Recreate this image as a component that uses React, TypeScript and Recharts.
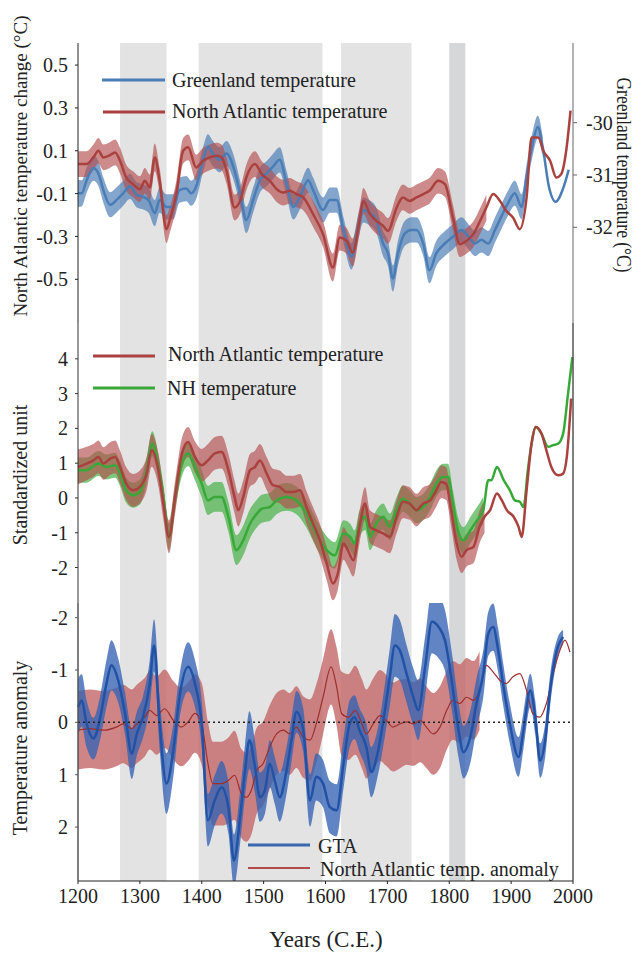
import React from 'react';
import { ComposedChart, Line, Area, XAxis, YAxis, ReferenceArea, ReferenceLine } from 'recharts';

const W = 635;
const H = 954;
const FONT = '"Liberation Serif", "Times New Roman", serif';
const TXT = '#222';

// ---------- shaded periods ----------
const coolStart = [1268, 1395, 1625];
const coolEnd = [1343, 1595, 1739];
const darkStart = 1800;
const darkEnd = 1826;

// ---------- ticks ----------
const xTicks = [1200, 1300, 1400, 1500, 1600, 1700, 1800, 1900, 2000];
const p1Ticks = [-0.5, -0.3, -0.1, 0.1, 0.3, 0.5];
const p1RightTicks = [-32, -31, -30];
const p2Ticks = [-2, -1, 0, 1, 2, 3, 4];
const p3Ticks = [-2, -1, 0, 1, 2];

// ---------- panel 1: North Atlantic temperature change (°C) ----------
const na1Years = [1200,1214,1225,1233,1241,1250,1260,1268,1278,1289,1300,1308,1316,1324,1332,1343,1348,1359,1370,1378,1391,1402,1413,1424,1432,1440,1453,1462,1472,1486,1497,1510,1521,1532,1542,1553,1564,1580,1596,1612,1623,1634,1644,1655,1661,1672,1682,1693,1701,1715,1725,1736,1747,1758,1768,1782,1793,1806,1817,1828,1839,1850,1860,1871,1882,1892,1903,1914,1925,1933,1944,1952,1963,1973,1981,1989,1996];
const na1Vals = [0.038,0.038,0.069,0.10,0.069,0.077,0.092,0.053,-0.025,-0.056,-0.079,-0.04,-0.071,0.069,-0.04,-0.266,-0.227,-0.10,0.10,0.116,0.022,0.053,0.069,0.077,0.069,0.007,-0.165,-0.134,-0.025,0.038,-0.009,-0.04,-0.079,-0.095,-0.087,-0.102,-0.118,-0.196,-0.289,-0.445,-0.305,-0.32,-0.375,-0.227,-0.134,-0.196,-0.227,-0.25,-0.274,-0.165,-0.118,-0.134,-0.118,-0.102,-0.087,-0.04,-0.056,-0.212,-0.336,-0.32,-0.289,-0.227,-0.165,-0.102,-0.134,-0.18,-0.212,-0.266,-0.118,0.162,0.162,0.10,0.053,-0.025,-0.009,0.10,0.287];
const na1Err = [0.06,0.06,0.06,0.06,0.06,0.06,0.06,0.06,0.06,0.06,0.06,0.06,0.06,0.065,0.06,0.065,0.06,0.06,0.06,0.06,0.06,0.06,0.06,0.06,0.06,0.06,0.06,0.06,0.06,0.06,0.06,0.06,0.06,0.06,0.06,0.06,0.06,0.06,0.06,0.065,0.06,0.06,0.065,0.06,0.06,0.06,0.06,0.06,0.06,0.06,0.06,0.06,0.06,0.06,0.06,0.06,0.06,0.06,0.06,0.06,0.06,0.06,0.06];

// Greenland temperature (°C), right axis
const grYears = [1200,1206,1214,1225,1233,1241,1252,1262,1273,1284,1295,1303,1314,1324,1332,1343,1354,1364,1375,1383,1391,1402,1410,1418,1429,1440,1451,1462,1472,1483,1494,1505,1515,1526,1537,1548,1559,1572,1580,1596,1607,1618,1629,1642,1653,1661,1672,1682,1693,1701,1709,1717,1728,1739,1747,1758,1768,1779,1793,1806,1820,1831,1842,1852,1863,1874,1884,1895,1906,1917,1925,1935,1943,1951,1961,1972,1983,1993];
const grVals = [-31.35,-31.35,-31.10,-30.87,-30.97,-31.29,-31.57,-31.48,-31.35,-31.22,-31.38,-31.41,-31.48,-31.73,-31.48,-31.61,-31.61,-31.29,-31.26,-31.35,-31.22,-30.71,-30.46,-30.59,-30.71,-30.59,-30.84,-31.35,-31.86,-31.48,-31.10,-30.97,-30.84,-30.71,-31.16,-31.61,-31.41,-31.10,-31.29,-31.67,-31.48,-31.48,-32.05,-32.56,-31.99,-31.67,-31.73,-31.86,-32.31,-32.50,-32.98,-32.50,-32.12,-32.05,-32.05,-32.31,-32.82,-32.50,-32.31,-32.18,-32.05,-32.18,-32.31,-32.24,-32.31,-32.05,-31.80,-31.54,-31.35,-31.61,-31.03,-30.39,-30.08,-30.46,-31.22,-31.51,-31.29,-30.90];
const grErr = [0.26,0.25,0.24,0.24,0.24,0.24,0.24,0.24,0.24,0.24,0.24,0.24,0.24,0.25,0.24,0.24,0.24,0.24,0.24,0.24,0.24,0.24,0.24,0.24,0.24,0.24,0.24,0.24,0.25,0.24,0.24,0.24,0.24,0.24,0.24,0.24,0.24,0.24,0.24,0.24,0.24,0.24,0.24,0.25,0.24,0.24,0.24,0.24,0.24,0.24,0.25,0.24,0.24,0.24,0.24,0.24,0.25,0.24,0.24,0.24,0.24,0.24,0.24,0.24,0.24,0.24,0.24,0.24,0.24,0.24,0.23,0.23,0.22,0.2];

// ---------- panel 2: standardized units ----------
const na2Years = [1200,1214,1225,1233,1241,1252,1260,1268,1278,1289,1300,1311,1319,1330,1338,1347,1357,1368,1378,1389,1400,1410,1421,1432,1443,1453,1459,1467,1478,1486,1494,1505,1515,1526,1537,1548,1559,1569,1580,1591,1602,1612,1620,1629,1636,1645,1655,1664,1672,1682,1693,1704,1715,1725,1736,1747,1758,1769,1779,1787,1795,1803,1812,1820,1828,1839,1849,1857,1866,1877,1885,1893,1904,1912,1917,1925,1933,1940,1949,1957,1965,1976,1984,1990,1997];
const na2Vals = [0.89,0.99,1.08,1.18,0.99,1.13,1.18,0.89,0.41,0.22,0.32,0.70,1.37,0.80,-0.16,-1.12,0.03,1.28,1.61,1.18,0.94,1.08,1.28,1.32,0.80,0.03,-0.35,0.03,0.80,0.89,1.08,0.70,0.37,0.32,0.17,0.17,0.22,-0.26,-0.74,-1.22,-1.89,-2.46,-2.17,-1.31,-1.50,-1.79,-0.83,-0.16,-0.83,-0.93,-1.02,-1.12,-0.54,-0.11,-0.16,-0.35,-0.16,-0.07,0.22,0.46,0.41,-0.35,-1.31,-1.69,-1.50,-1.41,-0.83,-0.54,-0.35,0.13,-0.07,-0.35,-0.54,-0.83,-1.12,0.22,1.56,2.04,1.85,1.37,0.89,0.65,0.70,1.18,2.86];
const na2Err = [0.5,0.48,0.47,0.47,0.47,0.47,0.47,0.47,0.47,0.47,0.47,0.47,0.47,0.47,0.47,0.47,0.47,0.45,0.43,0.45,0.47,0.47,0.47,0.47,0.47,0.47,0.47,0.47,0.47,0.47,0.47,0.47,0.47,0.47,0.47,0.47,0.47,0.47,0.47,0.47,0.48,0.48,0.47,0.47,0.47,0.47,0.47,0.47,0.47,0.47,0.47,0.47,0.47,0.47,0.47,0.47,0.47,0.47,0.47,0.47,0.47,0.47,0.47,0.47,0.47,0.47,0.47,0.47];

const nhYears = [1200,1214,1233,1246,1260,1268,1278,1289,1300,1311,1320,1330,1338,1347,1357,1368,1378,1389,1400,1410,1421,1432,1443,1456,1467,1478,1489,1497,1510,1521,1537,1553,1569,1585,1602,1615,1629,1640,1647,1655,1664,1672,1682,1693,1704,1715,1725,1736,1747,1758,1769,1779,1790,1798,1806,1814,1823,1834,1845,1855,1863,1868,1877,1888,1898,1906,1914,1920,1927,1933,1940,1949,1960,1968,1976,1984,1992,1999];
const nhVals = [0.80,0.80,0.99,0.89,0.94,0.70,0.22,0.08,0.17,0.80,1.56,0.89,0.03,-1.12,0.03,0.99,1.28,0.89,0.41,-0.07,0.03,0.03,-0.54,-1.50,-1.22,-0.74,-0.45,-0.31,-0.26,-0.07,0.03,-0.07,-0.45,-1.02,-1.50,-1.65,-1.02,-1.12,-1.31,-0.74,-0.54,-1.12,-0.74,-0.54,-0.83,-0.35,-0.02,-0.16,-0.35,-0.26,0.03,0.41,0.60,0.60,-0.16,-0.93,-1.22,-0.93,-0.64,-0.35,0.51,0.51,0.89,0.51,0.22,-0.07,-0.11,-0.26,0.80,1.56,2.04,1.85,1.47,1.52,1.56,1.85,3.00,4.05];
const nhErr = [0.36,0.36,0.36,0.36,0.36,0.36,0.36,0.36,0.36,0.36,0.36,0.36,0.36,0.38,0.36,0.36,0.36,0.38,0.4,0.42,0.43,0.43,0.43,0.43,0.43,0.42,0.4,0.4,0.4,0.4,0.4,0.4,0.4,0.4,0.4,0.38,0.38,0.38,0.38,0.38,0.38,0.38,0.38,0.38,0.38,0.38,0.38,0.38,0.38,0.38,0.38,0.38,0.38,0.38,0.38,0.38,0.38,0.38,0.38,0.38];

// ---------- panel 3: temperature anomaly (reversed axis) ----------
const gtaYears = [1200,1206,1214,1225,1236,1246,1254,1265,1276,1287,1295,1305,1316,1323,1332,1343,1354,1364,1378,1389,1400,1410,1421,1432,1443,1452,1462,1470,1477,1486,1494,1502,1510,1518,1526,1537,1545,1553,1564,1575,1585,1596,1607,1618,1629,1639,1647,1655,1666,1674,1685,1696,1704,1712,1720,1731,1742,1750,1761,1772,1783,1793,1804,1815,1823,1834,1844,1855,1863,1871,1879,1887,1898,1912,1920,1931,1939,1947,1955,1963,1974,1984];
const gtaVals = [-0.29,-0.42,0.03,0.31,-0.10,-0.74,-1.09,-0.80,-0.17,0.60,0.22,-0.10,-0.74,-1.47,0.03,1.17,0.54,-0.48,-1.06,-0.74,0.03,1.87,1.49,1.24,1.62,2.64,1.81,0.92,0.34,0.85,1.43,1.30,0.79,1.11,1.43,0.92,0.34,-0.20,0.15,1.49,1.04,1.17,1.62,1.68,0.79,0.03,-0.10,0.15,0.47,0.95,0.54,-0.23,-0.87,-1.47,-1.38,-0.93,-0.48,-0.23,-1.06,-1.92,-1.82,-1.57,-0.80,0.15,0.57,0.28,-0.36,-0.93,-1.69,-1.82,-1.38,-0.74,0.03,0.66,0.15,-0.61,-0.10,0.73,0.34,-0.61,-1.38,-1.63];
const gtaErr = [0.55,0.5,0.45,0.4,0.42,0.45,0.48,0.42,0.4,0.48,0.42,0.4,0.45,0.5,0.5,0.58,0.5,0.42,0.47,0.45,0.45,0.5,0.48,0.5,0.5,0.5,0.5,0.5,0.55,0.5,0.47,0.45,0.45,0.45,0.47,0.45,0.42,0.4,0.42,0.5,0.45,0.45,0.5,0.5,0.48,0.45,0.42,0.42,0.45,0.48,0.45,0.5,0.55,0.6,0.58,0.55,0.55,0.57,0.58,0.6,0.6,0.58,0.55,0.52,0.5,0.5,0.48,0.45,0.42,0.45,0.42,0.4,0.38,0.38,0.35,0.32,0.32,0.33,0.32,0.3,0.2,0.14];

const naaYears = [1200,1219,1241,1262,1273,1287,1295,1308,1316,1327,1340,1354,1367,1378,1389,1400,1410,1418,1432,1443,1453,1464,1472,1480,1489,1499,1510,1521,1532,1542,1553,1564,1575,1585,1596,1609,1618,1626,1637,1648,1659,1666,1677,1688,1698,1709,1720,1731,1742,1753,1763,1774,1785,1796,1806,1817,1828,1839,1849,1860,1871,1882,1892,1903,1914,1925,1935,1946,1957,1968,1979,1987,1995];
const naaVals = [0.15,0.12,0.15,0.09,0.03,0.12,0.03,-0.10,-0.23,-0.13,-0.26,-0.04,0.09,-0.01,-0.17,0.03,0.79,1.17,1.17,1.11,1.01,1.36,1.43,1.30,0.92,0.79,0.47,0.22,0.15,0.22,0.09,0.28,0.34,0.03,-0.48,-1.06,-0.68,-0.17,-0.10,-0.23,0.03,0.22,0.03,-0.13,-0.04,0.09,0.03,-0.01,0.03,-0.04,0.09,0.22,0.09,-0.23,-0.42,-0.36,-0.48,-0.42,-0.61,-1.09,-0.96,-0.80,-0.74,-0.87,-0.93,-0.61,-0.17,-0.10,-0.36,-0.93,-1.38,-1.57,-1.34];
const naaErr = [0.75,0.75,0.75,0.75,0.75,0.75,0.75,0.75,0.75,0.75,0.75,0.75,0.75,0.75,0.75,0.78,0.8,0.8,0.8,0.82,0.85,0.85,0.85,0.85,0.82,0.8,0.8,0.78,0.78,0.78,0.78,0.78,0.78,0.75,0.72,0.72,0.75,0.8,0.82,0.85,0.85,0.85,0.87,0.87,0.87,0.85,0.85,0.82,0.8,0.8,0.78,0.78,0.78,0.75,0.75,0.75,0.75,0.75,0.75];

// ---------- helpers ----------
const toLine = (xs: number[], ys: number[]) => xs.map((x, i) => ({ x, y: ys[i] }));
const toBand = (xs: number[], ys: number[], es: number[]) =>
  es.map((e, i) => ({ x: xs[i], band: [ys[i] - e, ys[i] + e] }));

const na1Line = toLine(na1Years, na1Vals);
const na1Band = toBand(na1Years, na1Vals, na1Err);
const grLine = toLine(grYears, grVals);
const grBand = toBand(grYears, grVals, grErr);
const na2Line = toLine(na2Years, na2Vals);
const na2Band = toBand(na2Years, na2Vals, na2Err);
const nhLine = toLine(nhYears, nhVals);
const nhBand = toBand(nhYears, nhVals, nhErr);
const gtaLine = toLine(gtaYears, gtaVals);
const gtaBand = toBand(gtaYears, gtaVals, gtaErr);
const naaLine = toLine(naaYears, naaVals);
const naaBand = toBand(naaYears, naaVals, naaErr);

// shading helper data (x extent only)
const shadeData = [{ x: 1200, y: 0 }, { x: 2000, y: 1 }];

// ---------- colours ----------
const BLUE1 = '#4a7cb5';
const RED1 = '#a9413f';
const RED1_BAND = '#b34d4d';
const GREEN = '#38a838';
const GREEN_BAND = '#46b046';
const BLUE3 = '#2252a6';
const BLUE3_BAND = '#3463b4';
const RED3 = '#9e2f2f';
const RED3_BAND = '#c46a6a';

const tickStyle = { fontFamily: FONT, fontSize: 20, fill: TXT };

const P1Texts = () => (
  <g>
    <text x={27} y={166} transform="rotate(-90 27 166)" textAnchor="middle" fontFamily={FONT} fontSize={19} fill={TXT}>
      North Atlantic temperature change (°C)
    </text>
    <text x={617} y={175} transform="rotate(90 617 175)" textAnchor="middle" fontFamily={FONT} fontSize={20} fill={TXT} textLength={195} lengthAdjust="spacingAndGlyphs">
      Greenland temperature (°C)
    </text>
    <line x1={102} y1={80} x2={165} y2={80} stroke={BLUE1} strokeWidth={3} />
    <text x={172} y={87} fontFamily={FONT} fontSize={20} fill={TXT}>Greenland temperature</text>
    <line x1={103} y1={112} x2={165} y2={112} stroke={RED1} strokeWidth={3} />
    <text x={172} y={118} fontFamily={FONT} fontSize={20} fill={TXT}>North Atlantic temperature</text>
  </g>
);

const P2Texts = () => (
  <g>
    <text x={27} y={475} transform="rotate(-90 27 475)" textAnchor="middle" fontFamily={FONT} fontSize={20} fill={TXT}>
      Standardized unit
    </text>
    <line x1={93} y1={356} x2={155} y2={356} stroke={RED1} strokeWidth={3} />
    <text x={168} y={361} fontFamily={FONT} fontSize={20} fill={TXT}>North Atlantic temperature</text>
    <line x1={93} y1={388} x2={155} y2={388} stroke={GREEN} strokeWidth={3} />
    <text x={167} y={395} fontFamily={FONT} fontSize={20} fill={TXT}>NH temperature</text>
  </g>
);

const P3Texts = () => (
  <g>
    <text x={27} y={748} transform="rotate(-90 27 748)" textAnchor="middle" fontFamily={FONT} fontSize={20} fill={TXT}>
      Temperature anomaly
    </text>
    <line x1={248} y1={845} x2={310} y2={845} stroke="#3a68b0" strokeWidth={3} />
    <text x={318} y={853} fontFamily={FONT} fontSize={20} fill={TXT}>GTA</text>
    <line x1={248} y1={868} x2={310} y2={868} stroke="#b24c4c" strokeWidth={2} />
    <text x={320} y={876} fontFamily={FONT} fontSize={20} fill={TXT}>North Atlantic temp. anomaly</text>
  </g>
);

const XTitle = () => (
  <text x={326} y={947} textAnchor="middle" fontFamily={FONT} fontSize={23} fill={TXT}>Years (C.E.)</text>
);

const layer: React.CSSProperties = { position: 'absolute', left: 0, top: 0 };

function Background() {
  return (
    <ComposedChart width={W} height={H} margin={{ top: 43, bottom: 73, left: 78, right: 62 }} data={shadeData}>
      <XAxis dataKey="x" type="number" domain={[1200, 2000]} hide />
      <YAxis domain={[0, 1]} hide />
      {coolStart.map((s, i) => (
        <ReferenceArea key={i} x1={s} x2={coolEnd[i]} fill="#e3e3e3" fillOpacity={1} stroke="none" ifOverflow="visible" />
      ))}
      <ReferenceArea x1={darkStart} x2={darkEnd} fill="#d6d7d9" fillOpacity={1} stroke="none" ifOverflow="visible" />
      <Line dataKey="y" stroke="none" dot={false} activeDot={false} isAnimationActive={false} />
    </ComposedChart>
  );
}

function Panel1() {
  return (
    <ComposedChart width={W} height={H} margin={{ top: 43, bottom: 631, left: 0, right: 0 }}>
      <XAxis dataKey="x" type="number" domain={[1200, 2000]} height={0} tick={false} tickLine={false} axisLine={{ stroke: '#222' }} />
      <XAxis xAxisId="top" orientation="top" dataKey="x" type="number" domain={[1200, 2000]} height={0} tick={false} tickLine={false} axisLine={{ stroke: '#222' }} />
      <YAxis yAxisId="l" width={78} domain={[-0.704, 0.603]} ticks={p1Ticks} allowDataOverflow tickSize={3} tickMargin={7}
        axisLine={{ stroke: '#222' }} tickLine={{ stroke: '#222' }} tick={tickStyle} label={{ content: () => <P1Texts /> }} />
      <YAxis yAxisId="r" orientation="right" width={62} domain={[-33.83, -28.476]} ticks={p1RightTicks} allowDataOverflow tickSize={4} tickMargin={9}
        axisLine={{ stroke: '#666' }} tickLine={{ stroke: '#666' }} tick={tickStyle} />
      <Area yAxisId="r" data={grBand} dataKey="band" type="monotone" stroke="none" fill={BLUE1} fillOpacity={0.68} isAnimationActive={false} dot={false} activeDot={false} />
      <Line yAxisId="r" data={grLine} dataKey="y" type="monotone" stroke={BLUE1} strokeWidth={2.5} dot={false} activeDot={false} isAnimationActive={false} />
      <Area yAxisId="l" data={na1Band} dataKey="band" type="monotone" stroke="none" fill={RED1_BAND} fillOpacity={0.65} isAnimationActive={false} dot={false} activeDot={false} />
      <Line yAxisId="l" data={na1Line} dataKey="y" type="monotone" stroke={RED1} strokeWidth={2.5} dot={false} activeDot={false} isAnimationActive={false} />
    </ComposedChart>
  );
}

function Panel2() {
  return (
    <ComposedChart width={W} height={H} margin={{ top: 323, bottom: 351, left: 0, right: 0 }}>
      <XAxis dataKey="x" type="number" domain={[1200, 2000]} hide />
      <XAxis xAxisId="top" orientation="top" type="number" domain={[1200, 2000]} ticks={xTicks} height={0} tickSize={3} tickFormatter={() => ''}
        axisLine={{ stroke: '#222' }} tickLine={{ stroke: '#222' }} />
      <YAxis yAxisId="l" width={78} domain={[-3.02, 5.03]} ticks={p2Ticks} allowDataOverflow tickSize={3} tickMargin={7}
        axisLine={{ stroke: '#333' }} tickLine={{ stroke: '#333' }} tick={tickStyle} label={{ content: () => <P2Texts /> }} />
      <YAxis yAxisId="r" orientation="right" width={62} domain={[0, 1]} ticks={[]} tickLine={false} axisLine={{ stroke: '#555', strokeWidth: 1.5 }} />
      <Area yAxisId="l" data={nhBand} dataKey="band" type="monotone" stroke="none" fill={GREEN_BAND} fillOpacity={0.7} isAnimationActive={false} dot={false} activeDot={false} />
      <Area yAxisId="l" data={na2Band} dataKey="band" type="monotone" stroke="none" fill={RED1_BAND} fillOpacity={0.65} isAnimationActive={false} dot={false} activeDot={false} />
      <Line yAxisId="l" data={nhLine} dataKey="y" type="monotone" stroke={GREEN} strokeWidth={2.5} dot={false} activeDot={false} isAnimationActive={false} />
      <Line yAxisId="l" data={na2Line} dataKey="y" type="monotone" stroke={RED1} strokeWidth={2.5} dot={false} activeDot={false} isAnimationActive={false} />
      <Line yAxisId="r" data={shadeData} dataKey="y" stroke="none" dot={false} activeDot={false} isAnimationActive={false} />
    </ComposedChart>
  );
}

function Panel3() {
  return (
    <ComposedChart width={W} height={H} margin={{ top: 603, bottom: 43, left: 0, right: 0 }}>
      <XAxis dataKey="x" type="number" domain={[1200, 2000]} ticks={xTicks} height={30} tickSize={3} tickMargin={5}
        axisLine={{ stroke: '#222' }} tickLine={{ stroke: '#222' }} tick={tickStyle} label={{ content: () => <XTitle /> }} />
      <XAxis xAxisId="top" orientation="top" type="number" domain={[1200, 2000]} ticks={xTicks} height={0} tickSize={3} tickFormatter={() => ''}
        axisLine={{ stroke: '#222' }} tickLine={{ stroke: '#222' }} />
      <YAxis yAxisId="l" width={78} domain={[-2.28, 3.03]} reversed ticks={p3Ticks} allowDataOverflow tickSize={3} tickMargin={7}
        axisLine={{ stroke: '#555', strokeWidth: 1.5 }} tickLine={{ stroke: '#555' }} tick={tickStyle} label={{ content: () => <P3Texts /> }} />
      <YAxis yAxisId="r" orientation="right" width={62} domain={[0, 1]} tick={false} tickLine={false} axisLine={{ stroke: '#555', strokeWidth: 1.5 }} />
      <Area yAxisId="l" data={naaBand} dataKey="band" type="monotone" stroke="none" fill={RED3_BAND} fillOpacity={0.82} isAnimationActive={false} dot={false} activeDot={false} />
      <Line yAxisId="l" data={naaLine} dataKey="y" type="monotone" stroke={RED3} strokeWidth={1.2} dot={false} activeDot={false} isAnimationActive={false} />
      <Area yAxisId="l" data={gtaBand} dataKey="band" type="monotone" stroke="none" fill={BLUE3_BAND} fillOpacity={0.78} isAnimationActive={false} dot={false} activeDot={false} />
      <Line yAxisId="l" data={gtaLine} dataKey="y" type="monotone" stroke={BLUE3} strokeWidth={2.5} dot={false} activeDot={false} isAnimationActive={false} />
      <ReferenceLine yAxisId="l" y={0} stroke="#222" strokeWidth={1.5} strokeDasharray="2 3" />
    </ComposedChart>
  );
}

export default function App() {
  return (
    <div style={{ position: 'absolute', left: 0, top: 0, width: W, height: H, background: '#fff', overflow: 'hidden' }}>
      <div style={layer}><Background /></div>
      <div style={layer}><Panel1 /></div>
      <div style={layer}><Panel2 /></div>
      <div style={layer}><Panel3 /></div>
    </div>
  );
}
